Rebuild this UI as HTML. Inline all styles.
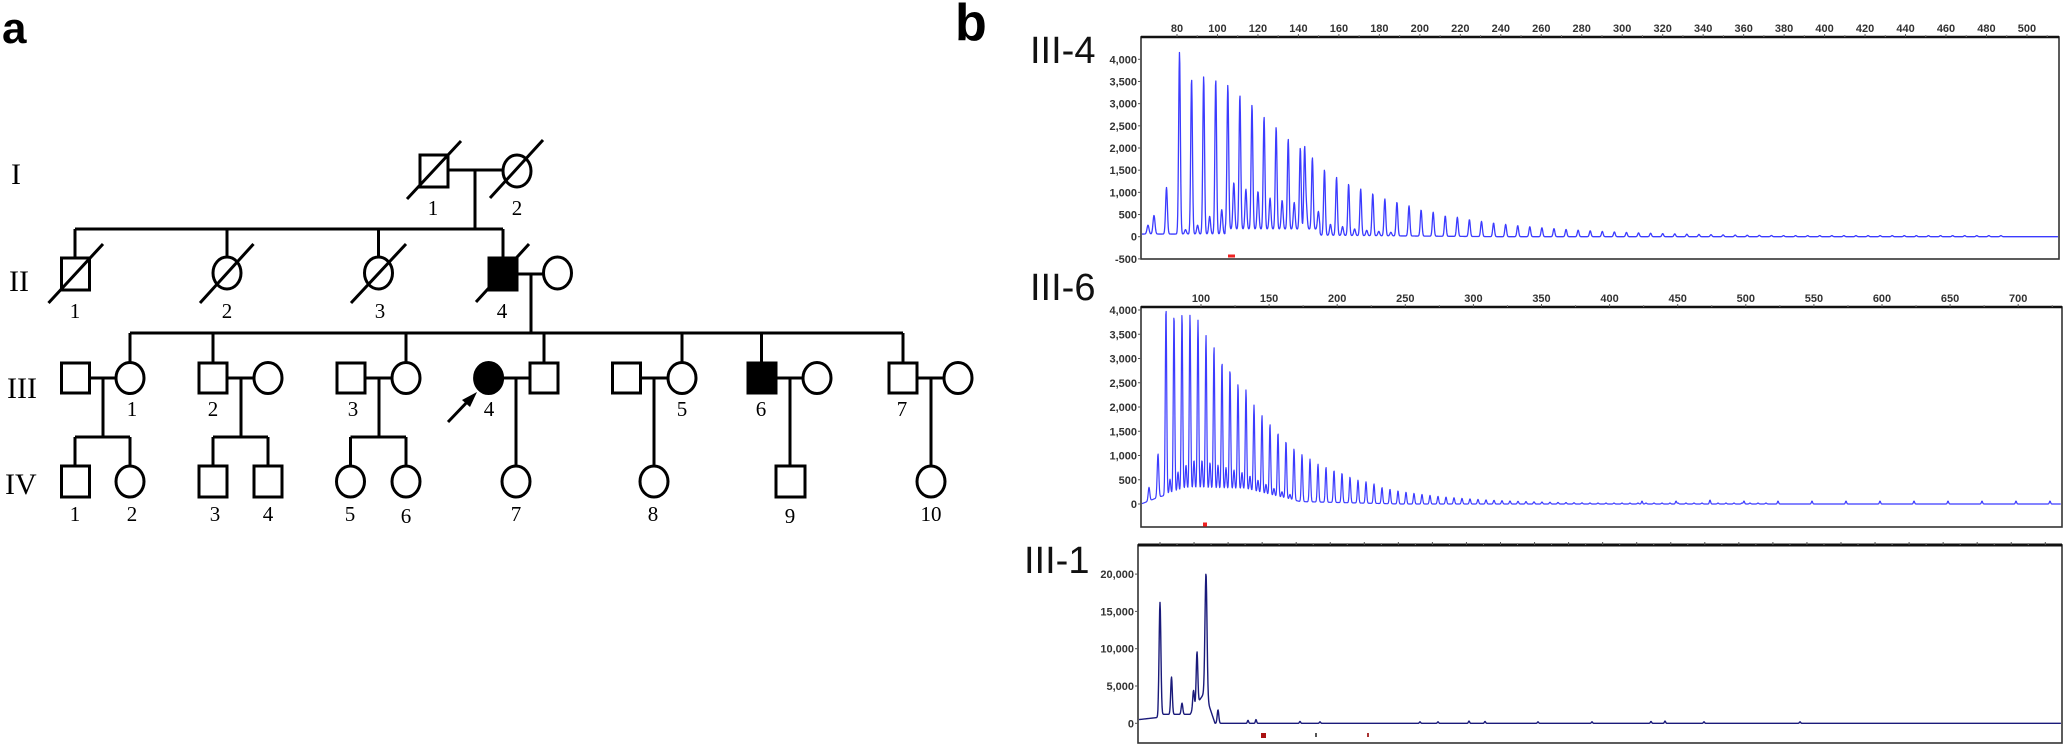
<!DOCTYPE html>
<html><head><meta charset="utf-8"><style>
html,body{margin:0;padding:0;background:#fff;}
svg{display:block;}
.ped line,.ped rect,.ped ellipse{stroke:#000;stroke-width:3;fill:#fff;}
.ped .f{fill:#000;}
.num{font-family:"Liberation Serif",serif;font-size:21px;text-anchor:middle;}
.gen{font-family:"Liberation Serif",serif;font-size:30px;}
.tk{font-family:"Liberation Sans",sans-serif;font-size:11px;fill:#333;font-weight:bold;}
.lab{font-family:"Liberation Sans",sans-serif;font-size:38px;fill:#111;}
</style></head><body>
<svg id="s" width="2066" height="753" viewBox="0 0 2066 753" xmlns="http://www.w3.org/2000/svg">
<text x="2" y="43" font-family="Liberation Sans,sans-serif" font-weight="bold" font-size="44">a</text>
<text x="955" y="40" font-family="Liberation Sans,sans-serif" font-weight="bold" font-size="52">b</text>
<g class="gen">
<text x="11" y="184">I</text><text x="9" y="291">II</text><text x="7" y="398">III</text><text x="5" y="494">IV</text>
</g>
<g class="ped">
<!-- Gen I -->
<line x1="448" y1="170" x2="503" y2="170"/><line x1="475" y1="170" x2="475" y2="229"/>
<rect x="420" y="155" width="28" height="32"/><ellipse cx="517" cy="171" rx="14" ry="16"/>
<line x1="407" y1="199" x2="461" y2="141"/><line x1="490" y1="198" x2="543" y2="140"/>
<!-- Gen II -->
<line x1="75" y1="229" x2="503" y2="229"/>
<line x1="75" y1="229" x2="75" y2="258"/><line x1="227" y1="229" x2="227" y2="258"/><line x1="378.5" y1="229" x2="378.5" y2="258"/><line x1="503" y1="229" x2="503" y2="258"/>
<line x1="517" y1="274" x2="544" y2="274"/><line x1="531" y1="274" x2="531" y2="333"/>
<rect x="61.5" y="258" width="28" height="32"/><ellipse cx="227" cy="273" rx="14" ry="16"/><ellipse cx="378.5" cy="273" rx="14" ry="16"/>
<rect class="f" x="489" y="258" width="28" height="32"/><ellipse cx="557.5" cy="273" rx="14" ry="16"/>
<line x1="48.5" y1="303" x2="103" y2="244"/><line x1="200" y1="303" x2="253.5" y2="244"/><line x1="351" y1="303" x2="406" y2="244"/><line x1="476" y1="302" x2="529" y2="244"/>
<!-- Gen III sibship -->
<line x1="130" y1="333" x2="903" y2="333"/>
<line x1="130" y1="333" x2="130" y2="363"/><line x1="213" y1="333" x2="213" y2="363"/><line x1="406" y1="333" x2="406" y2="363"/><line x1="544" y1="333" x2="544" y2="363"/><line x1="682" y1="333" x2="682" y2="363"/><line x1="761.5" y1="333" x2="761.5" y2="363"/><line x1="903" y1="333" x2="903" y2="363"/>
<!-- III-1 -->
<line x1="89" y1="378" x2="117" y2="378"/><line x1="103" y1="378" x2="103" y2="437"/><line x1="75" y1="437" x2="130" y2="437"/><line x1="75" y1="437" x2="75" y2="466"/><line x1="130" y1="437" x2="130" y2="466"/>
<rect x="61.5" y="363" width="28" height="30"/><ellipse cx="130" cy="378" rx="14" ry="15.5"/>
<rect x="61.5" y="466" width="28" height="31"/><ellipse cx="130" cy="481.5" rx="14" ry="15.5"/>
<!-- III-2 -->
<line x1="227" y1="378" x2="254" y2="378"/><line x1="241" y1="378" x2="241" y2="437"/><line x1="213" y1="437" x2="268" y2="437"/><line x1="213" y1="437" x2="213" y2="466"/><line x1="268" y1="437" x2="268" y2="466"/>
<rect x="199" y="363" width="28" height="30"/><ellipse cx="268" cy="378" rx="14" ry="15.5"/>
<rect x="199" y="466" width="28" height="31"/><rect x="254" y="466" width="28" height="31"/>
<!-- III-3 -->
<line x1="365" y1="378" x2="392" y2="378"/><line x1="379" y1="378" x2="379" y2="437"/><line x1="350.5" y1="437" x2="406" y2="437"/><line x1="350.5" y1="437" x2="350.5" y2="466"/><line x1="406" y1="437" x2="406" y2="466"/>
<rect x="337" y="363" width="28" height="30"/><ellipse cx="406" cy="378" rx="14" ry="15.5"/>
<ellipse cx="350.5" cy="481.5" rx="14" ry="15.5"/><ellipse cx="406" cy="481.5" rx="14" ry="15.5"/>
<!-- III-4 -->
<line x1="502" y1="378" x2="530" y2="378"/><line x1="516" y1="378" x2="516" y2="466"/>
<ellipse class="f" cx="488.6" cy="378" rx="14" ry="15.5"/><rect x="530" y="363" width="28" height="30"/>
<ellipse cx="516" cy="481.5" rx="14" ry="15.5"/>
<line x1="448" y1="422" x2="470" y2="399"/>
<polygon points="477,392 462,400 470,407" fill="#000" stroke="none"/>
<!-- III-5 -->
<line x1="641" y1="378" x2="668" y2="378"/><line x1="654" y1="378" x2="654" y2="466"/>
<rect x="612.5" y="363" width="28" height="30"/><ellipse cx="682" cy="378" rx="14" ry="15.5"/>
<ellipse cx="654" cy="481.5" rx="14" ry="15.5"/>
<!-- III-6 -->
<line x1="775" y1="378" x2="803" y2="378"/><line x1="790" y1="378" x2="790" y2="466"/>
<rect class="f" x="748" y="363" width="28" height="30"/><ellipse cx="817" cy="378" rx="14" ry="15.5"/>
<rect x="776" y="466" width="29" height="31"/>
<!-- III-7 -->
<line x1="918" y1="378" x2="944" y2="378"/><line x1="931" y1="378" x2="931" y2="466"/>
<rect x="889" y="363" width="28" height="30"/><ellipse cx="958" cy="378" rx="14" ry="15.5"/>
<ellipse cx="931" cy="481.5" rx="14" ry="15.5"/>
</g>
<g class="num">
<text x="433" y="215">1</text><text x="517" y="215">2</text>
<text x="75" y="318">1</text><text x="227" y="318">2</text><text x="380" y="318">3</text><text x="502" y="318">4</text>
<text x="132" y="416">1</text><text x="213" y="416">2</text><text x="353" y="416">3</text><text x="489" y="416">4</text><text x="682" y="416">5</text><text x="761" y="416">6</text><text x="902" y="416">7</text>
<text x="75" y="521">1</text><text x="132" y="521">2</text><text x="215" y="521">3</text><text x="268" y="521">4</text><text x="350" y="521">5</text><text x="406" y="523">6</text><text x="516" y="521">7</text><text x="653" y="521">8</text><text x="790" y="523">9</text><text x="931" y="521">10</text>
</g>
<text class="lab" x="1030" y="63">III-4</text>
<text class="lab" x="1030" y="300">III-6</text>
<text class="lab" x="1024" y="573">III-1</text>
<g id="plots"></g>
</svg>
<script>
(function(){
var NS="http://www.w3.org/2000/svg",G=document.getElementById("plots");
function el(t,a,txt){var e=document.createElementNS(NS,t);for(var k in a)e.setAttribute(k,a[k]);if(txt!==undefined)e.textContent=txt;G.appendChild(e);return e;}
function fmt(v){var s=Math.abs(v).toString();if(Math.abs(v)>=1000)s=s.replace(/\B(?=(\d{3})+(?!\d))/g,",");return (v<0?"-":"")+s;}
function box(x1,y1,x2,y2,tw){el("rect",{x:x1,y:y1,width:x2-x1,height:y2-y1,fill:"none",stroke:"#333","stroke-width":1.6});
 el("line",{x1:x1,y1:y1,x2:x2,y2:y1,stroke:"#111","stroke-width":tw||2.4});}
function yax(x,y0,k,vals){vals.forEach(function(v){var y=y0-v*k;el("line",{x1:x-3,y1:y,x2:x,y2:y,stroke:"#555","stroke-width":1});el("text",{x:x-4,y:y+4,"text-anchor":"end","class":"tk"},fmt(v));});}
function xax(y,x0,k,v0,vals,lab,x2){for(var v=v0;;v+=(vals)){var x=x0+(v-v0)*k;if(x>x2)break;el("line",{x1:x,y1:y,x2:x,y2:y-3,stroke:"#555","stroke-width":1});if(lab)el("text",{x:x,y:y-5,"text-anchor":"middle","class":"tk"},v);
 var xm=x+k*vals/2;if(xm<x2)el("line",{x1:xm,y1:y,x2:xm,y2:y-2,stroke:"#777","stroke-width":1});}}
function trace(xa,xb,y0,k,base,peaks,col,sw){var d="";for(var x=xa;x<=xb;x+=0.35){var v=base(x);for(var i=0;i<peaks.length;i++){var p=peaks[i],dx=x-p[0];if(Math.abs(dx)<8)v+=p[1]*Math.exp(-dx*dx/(2*p[2]*p[2]));}
 d+=(d?"L":"M")+x.toFixed(2)+" "+(y0-v*k).toFixed(2);}el("path",{d:d,fill:"none",stroke:col,"stroke-width":sw,"stroke-linejoin":"round"});}
// Plot 1
box(1141,37,2059,259);
xax(37,1177,2.0237,80,20,true,2055);
yax(1141,236.7,0.04435,[4000,3500,3000,2500,2000,1500,1000,500,0,-500]);
var P1=[[1148,200,1],[1154,420,1],[1166.5,1050,0.9]];
var H1=[4100,3500,3550,3480,3250,3020,2800,2530,2300,2030,1830,1610,1480,1310,1160,1050,950,830,760,680,590,540,460,430,380];
var h=380;for(var i=25;i<=68;i++){h*=0.9;H1.push(Math.max(h,25));}
var S1=[100,200,400,550,1050,900,850,700,650,600,500,400,250,200,150,120,100,80];
for(var k=0;k<H1.length;k++){var x=1179.5+12.08*k;P1.push([x,H1[k],0.85]);if(k<S1.length)P1.push([x+6,S1[k],0.9]);}
P1.push([1179.5+12.08*10+4.3,1780,0.8]);
trace(1142,2058,236.7,0.04435,function(x){if(x<1225)return 60;if(x<1320)return 170;if(x<1500)return 30*(1500-x)/170;return 0;},P1,"#3b3bff",1.3);
el("rect",{x:1228,y:254.5,width:7,height:3,fill:"#e22"});
// Plot 2
box(1141,307,2062,527);
xax(307,1201,1.362,100,50,true,2058);
yax(1141,504,0.0485,[4000,3500,3000,2500,2000,1500,1000,500,0]);
var P2=[[1149,280,0.8],[1158,900,0.8]];
var H2=[3870,3680,3640,3600,3490,3180,2950,2640,2480,2180,2060,1780,1600,1460,1320,1180,1060,970,880,780,720,660,610,530,470,440,400,330,300,270];
h=270;for(i=30;i<=75;i++){h*=0.9;H2.push(Math.max(h,20));}
var S2=[300,400,500,600,600,550,500,450,400,350,300,250,200,150,120,100];
for(k=0;k<H2.length;k++){x=1166+8.0*k;P2.push([x,H2[k],0.7]);if(k<S2.length)P2.push([x+4,S2[k],0.7]);}
for(x=1642;x<2060;x+=34)P2.push([x,60,0.6]);
trace(1142,2061,504,0.0485,function(x){if(x<1160)return (x-1141)*8;if(x<1185)return 150+(x-1160)*6;if(x<1245)return 300;if(x<1300)return 300-(x-1245)*4.5;if(x<1400)return 50*(1400-x)/100;return 0;},P2,"#3b3bff",1.2);
el("rect",{x:1203,y:522.5,width:4,height:4,fill:"#e22"});
// Plot 3
box(1138,545,2062,743,3);
xax(545,1160,1.362,0,25,false,2058);
yax(1138,723.3,0.00746,[20000,15000,10000,5000,0]);
var P3=[[1160,15000,0.9],[1171.5,5000,0.8],[1182,1500,0.8],[1193.5,2500,0.8],[1197,7000,0.8],[1206,16500,1.0],[1218,1800,0.8],[1248,400,0.6],[1256,500,0.6],[1300,250,0.6],[1320,200,0.6],[1420,200,0.6],[1438,200,0.6],[1469,300,0.6],[1485,250,0.6],[1538,200,0.6],[1592,200,0.6],[1651,250,0.6],[1665,300,0.6],[1704,200,0.6],[1800,200,0.6]];
trace(1139,2061,723.3,0.00746,function(x){if(x<1158)return 500+(x-1139)*15;if(x<1190)return 1200;if(x<1205)return 1200+(x-1190)*200;if(x<1215)return 4000-(x-1205)*400;return 0;},P3,"#1a1a7a",1.4);
el("rect",{x:1261,y:733,width:5,height:5,fill:"#a11"});
el("rect",{x:1315,y:733,width:2,height:4,fill:"#555"});
el("rect",{x:1367,y:733,width:2,height:4,fill:"#a33"});
})();
</script>
</body></html>
